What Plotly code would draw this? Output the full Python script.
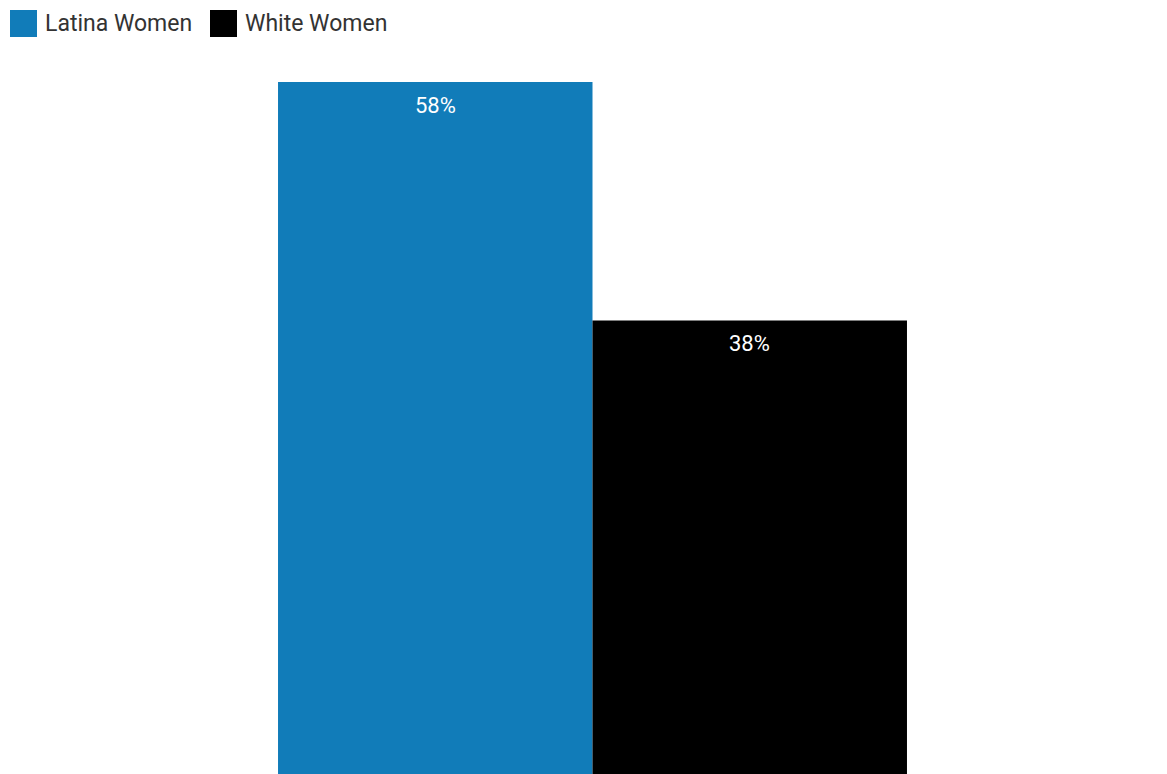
import plotly.graph_objects as go

categories = ["All"]
series_names = ["Latina Women", "White Women"]
series_values = [[58], [38]]
series_colors = ["#117cb9", "#000000"]
label_texts = ["58%", "38%"]

OFF = 8  # page body margin
W, H = 1167 - OFF, 774 - OFF
ML, MR, MT, MB = 18 - OFF, 0, 82 - OFF, 0
PW, PH = W - ML - MR, H - MT - MB

def px_x(p):
    return (p - OFF - ML) / PW

def px_y(p):
    return (H - MB - (p - OFF)) / PH

fig = go.Figure()
for name, vals, col in zip(series_names, series_values, series_colors):
    fig.add_trace(go.Bar(
        x=categories, y=vals, name=name,
        marker=dict(color=col, line=dict(width=0)),
        showlegend=False, hoverinfo="skip",
    ))

annotations = []
shapes = []
group_frac = 1 - 0.4526
for i, (vals, lab) in enumerate(zip(series_values, label_texts)):
    xoff = (-0.5 + (i + 0.5) / len(series_values)) * group_frac
    annotations.append(dict(
        x=xoff, xref="x", y=vals[0], yref="y", text=lab, showarrow=False,
        yanchor="middle", yshift=-23,
        font=dict(family="Roboto", size=22, color="#ffffff"),
    ))

# custom legend (screen pixel positions)
legend_x = [10, 210]
for i, (name, col) in enumerate(zip(series_names, series_colors)):
    x0 = legend_x[i]
    shapes.append(dict(type="rect", xref="paper", yref="paper",
                       x0=px_x(x0), x1=px_x(x0 + 27), y0=px_y(37), y1=px_y(10),
                       fillcolor=col, line=dict(width=0)))
    annotations.append(dict(
        x=px_x(x0 + 33), xref="paper", y=px_y(23.5), yref="paper",
        text=name, showarrow=False, xanchor="left", yanchor="middle",
        font=dict(family="Roboto", size=23, color="#333333"),
    ))

fig.update_layout(
    width=W, height=H,
    margin=dict(l=ML, r=MR, t=MT, b=MB, pad=0),
    barmode="group", bargap=0.4526, bargroupgap=0,
    plot_bgcolor="#ffffff", paper_bgcolor="#ffffff",
    xaxis=dict(visible=False, range=[-0.5, 0.5]),
    yaxis=dict(visible=False, range=[0, 58]),
    annotations=annotations, shapes=shapes,
    showlegend=False,
)

fig.write_html("out.html")
